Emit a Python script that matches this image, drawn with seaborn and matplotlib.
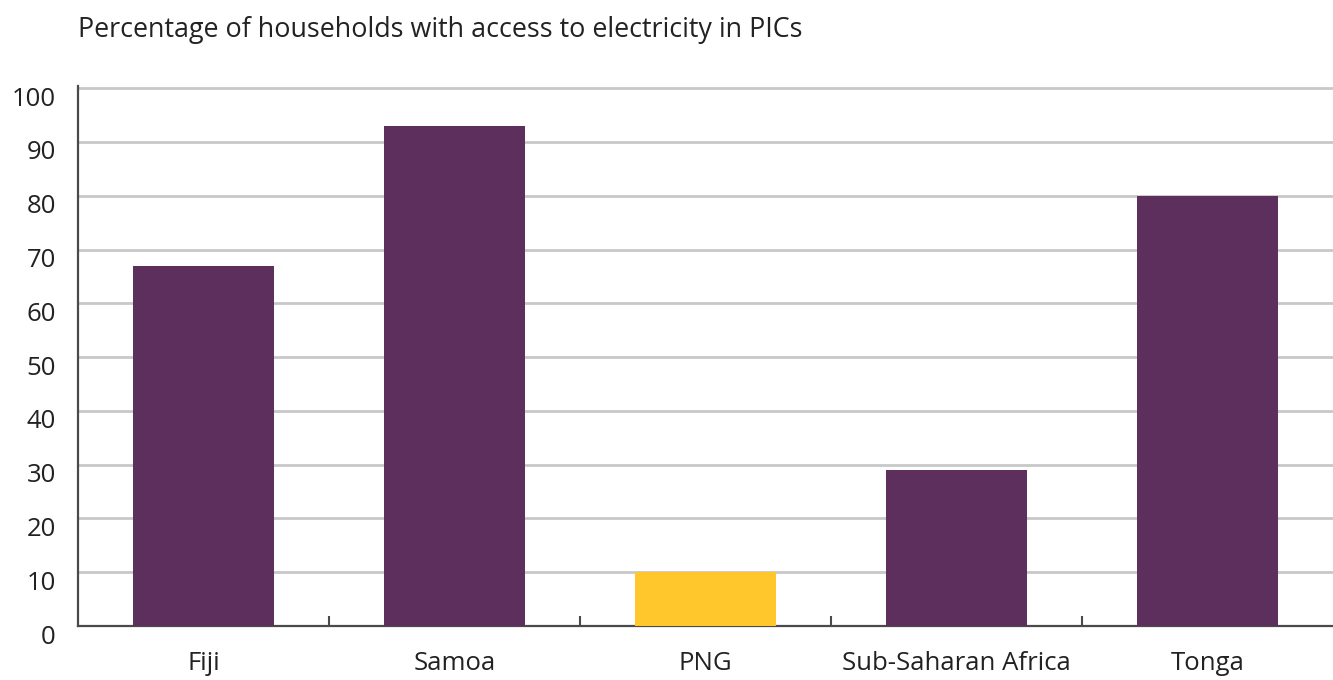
import seaborn as sns
import matplotlib.pyplot as plt
import matplotlib.transforms as mtransforms
from matplotlib.ticker import FixedLocator
import pandas as pd

# Values
countries = ['Fiji', 'Samoa', 'PNG', 'Sub-Saharan Africa', 'Tonga']
access_pct = [67, 93, 10, 29, 80]
bar_colors = ['#5C2F5C', '#5C2F5C', '#FFC72C', '#5C2F5C', '#5C2F5C']
y_ticks = [0, 10, 20, 30, 40, 50, 60, 70, 80, 90, 100]

df = pd.DataFrame({'Country': countries, 'Access': access_pct})

sns.set_style("white")
plt.rcParams['font.family'] = ['Open Sans', 'DejaVu Sans']

fig = plt.figure(figsize=(13.33, 6.8), dpi=100)
ax = fig.add_axes([78 / 1333, 1 - 626 / 680, 1 - 78 / 1333, (626 - 86) / 680])

sns.barplot(data=df, x='Country', y='Access', hue='Country',
            palette=bar_colors, legend=False, width=0.56,
            saturation=1, linewidth=0, ax=ax, zorder=3)

ax.set_ylim(0, 100.4)
ax.set_xlim(-0.5, len(countries) - 0.5)
ax.set_yticks(y_ticks)
ax.yaxis.grid(True, color='#C8C8C8', linewidth=2)
ax.set_axisbelow(True)

for side in ['top', 'right']:
    ax.spines[side].set_visible(False)
for side in ['left', 'bottom']:
    ax.spines[side].set_color('#4A4A4A')
    ax.spines[side].set_linewidth(1.6)

ax.set_xlabel('')
ax.set_ylabel('')
ax.tick_params(axis='y', length=0, pad=16, labelsize=18.5, labelcolor='#222222')
ax.tick_params(axis='x', which='major', bottom=True, length=0, pad=18,
               labelsize=18.5, labelcolor='#222222')
ax.xaxis.set_minor_locator(FixedLocator([i + 0.5 for i in range(len(countries) - 1)]))
ax.tick_params(axis='x', which='minor', bottom=True, direction='in', length=7,
               width=1.5, color='#4A4A4A')

# y tick labels sit a bit below their gridlines in the reference
offset = mtransforms.ScaledTranslation(0, -8 / 100, fig.dpi_scale_trans)
for lab in ax.get_yticklabels():
    lab.set_transform(lab.get_transform() + offset)

fig.text(78 / 1333, 1 - 30 / 680, 'Percentage of households with access to electricity in PICs',
         fontsize=19.4, color='#222222', va='center', ha='left')

plt.savefig('out.png', dpi=100, facecolor='white')
